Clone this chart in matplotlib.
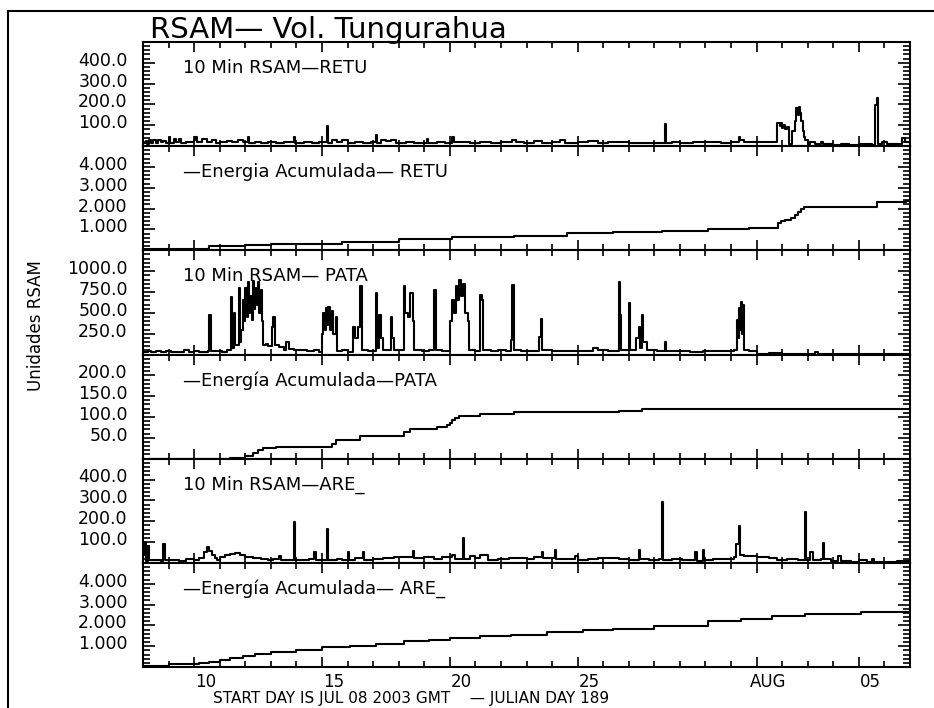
import numpy as np
import matplotlib
matplotlib.use('Agg')
import matplotlib.pyplot as plt
from matplotlib.ticker import MultipleLocator, FixedLocator
from matplotlib.transforms import ScaledTranslation
from matplotlib.patches import Rectangle

# day of month counted from Jul (Aug 1 = 32)
x_ticks = [10, 15, 20, 25, 32, 36]
x_labels = ['10', '15', '20', '25', 'AUG', '05']

# 10 min RSAM RETU (day, value)
retu = [(8.0,15),(8.1,25),(8.15,12),(8.25,30),(8.3,14),(8.4,28),(8.5,15),(8.6,30),(8.7,18),(8.8,26),
        (8.9,14),(9.0,45),(9.05,15),(9.2,35),(9.3,20),(9.4,33),(9.5,15),(9.7,18),(10.0,30),(10.05,45),
        (10.1,20),(10.3,32),(10.5,22),(10.7,30),(10.85,14),(11.0,18),(11.3,25),(11.5,20),(11.7,28),
        (11.9,22),(12.1,45),(12.15,16),(12.4,20),(12.6,14),(12.9,22),(13.2,15),(13.5,20),(13.9,45),
        (13.95,14),(14.3,18),(14.6,14),(14.9,20),(15.2,97),(15.25,15),(15.4,30),(15.6,20),(15.8,28),
        (16.0,15),(16.3,18),(16.6,14),(16.9,22),(17.1,52),(17.15,16),(17.3,30),(17.5,25),(17.7,30),
        (17.9,15),(18.3,20),(18.6,14),(19.1,35),(19.15,15),(19.5,22),(19.8,14),(20.1,45),(20.15,18),
        (20.5,22),(20.8,15),(21.2,20),(21.6,14),(22.0,18),(22.45,30),(22.6,22),(22.9,15),(23.3,25),
        (23.6,16),(24.0,22),(24.3,28),(24.5,15),(25.0,20),(25.4,25),(25.8,15),(26.2,22),(26.6,18),
        (27.0,14),(27.5,16),(28.0,14),(28.4,105),(28.45,14),(28.7,20),(29.0,14),(29.5,22),(29.9,18),
        (30.2,22),(30.6,15),(31.0,20),(31.3,45),(31.35,28),(31.5,20),(32.75,20),(32.8,113),(32.9,95),
        (32.95,110),(33.0,85),(33.05,100),(33.1,80),(33.2,90),(33.25,10),(33.35,10),(33.4,75),(33.5,120),
        (33.55,185),(33.6,150),(33.65,190),(33.7,160),(33.75,120),(33.8,75),(33.85,45),(33.9,30),(34.0,10),
        (34.1,22),(34.3,8),(34.5,20),(34.6,10),(35.0,5),(35.3,10),(35.6,5),(36.0,8),(36.3,12),(36.5,5),
        (36.65,199),(36.7,231),(36.75,10),(36.9,18),(37.1,8),(37.5,10),(37.7,38),(37.8,20),(38.0,15)]

# Energia acumulada RETU, step values
retu_energy = [(8.0,0.06),(10.6,0.19),(12.0,0.24),(13.0,0.32),(15.8,0.42),(18.0,0.52),(20.1,0.62),
               (22.5,0.71),(24.6,0.81),(26.4,0.87),(28.3,0.94),(30.1,1.0),(31.7,1.07),(32.85,1.3),
               (32.95,1.42),(33.1,1.45),(33.35,1.55),(33.5,1.7),(33.6,1.86),(33.75,2.0),(33.87,2.1),
               (36.7,2.3),(37.85,2.38),(38.0,2.38)]

# 10 min RSAM PATA
pata = [(8.0,30),(8.2,40),(8.3,25),(8.5,45),(8.7,30),(8.9,40),(9.1,28),(9.3,35),(9.6,50),(9.8,30),
        (10.0,45),(10.2,35),(10.4,30),(10.55,40),(10.6,480),(10.65,40),(10.9,45),(11.1,35),(11.3,60),
        (11.45,695),(11.5,80),(11.55,500),(11.6,120),(11.75,797),(11.8,150),(11.85,300),(11.9,650),
        (11.95,400),(12.0,800),(12.05,450),(12.1,870),(12.15,500),(12.2,700),(12.25,420),(12.3,880),
        (12.35,550),(12.4,800),(12.45,600),(12.5,870),(12.55,500),(12.6,780),(12.65,400),(12.7,120),
        (12.8,130),(12.9,100),(13.05,330),(13.1,453),(13.15,120),(13.3,90),(13.5,60),(13.6,150),
        (13.7,70),(13.9,50),(14.1,60),(14.4,40),(14.7,55),(14.9,35),(15.0,250),(15.05,500),(15.1,300),
        (15.15,560),(15.2,350),(15.25,575),(15.3,300),(15.4,520),(15.45,250),(15.55,450),(15.6,40),
        (15.8,50),(16.0,35),(16.2,330),(16.3,200),(16.4,330),(16.5,817),(16.55,60),(16.8,40),(17.0,45),
        (17.1,737),(17.15,80),(17.25,473),(17.3,200),(17.4,60),(17.7,453),(17.75,200),(17.8,60),
        (18.0,50),(18.2,817),(18.25,500),(18.35,450),(18.45,737),(18.55,400),(18.6,60),(18.9,45),
        (19.2,55),(19.4,777),(19.45,50),(19.7,40),(19.95,45),(20.0,400),(20.1,650),(20.15,500),
        (20.25,820),(20.3,650),(20.35,898),(20.45,700),(20.5,850),(20.6,500),(20.7,400),(20.75,50),
        (21.0,45),(21.2,716),(21.25,650),(21.3,60),(21.6,45),(21.9,50),(22.2,40),(22.4,170),(22.45,838),
        (22.5,60),(22.8,45),(23.2,40),(23.5,210),(23.55,421),(23.6,50),(24.0,45),(24.5,40),(25.0,45),
        (25.6,73),(25.8,60),(26.2,45),(26.6,865),(26.65,473),(26.7,60),(27.0,615),(27.05,60),(27.3,194),
        (27.4,330),(27.45,80),(27.5,473),(27.55,150),(27.7,50),(28.1,45),(28.4,150),(28.45,40),(28.9,45),
        (29.4,35),(29.9,45),(30.3,40),(30.8,45),(31.1,50),(31.25,413),(31.3,200),(31.33,560),(31.37,300),
        (31.4,635),(31.43,250),(31.47,600),(31.5,60),(31.7,40),(32.0,10),(32.5,15),(33.0,8),(33.5,12),
        (34.0,10),(34.3,30),(34.4,12),(35.0,8),(35.5,12),(36.0,5),(36.5,10),(37.0,8),(37.5,12),(38.0,15)]

pata_energy = [(8.0,0),(11.4,2),(12.0,7),(12.3,14),(12.5,20),(12.7,26),(13.2,29),(15.4,36),(15.55,45),
               (16.5,55),(18.2,64),(18.45,70),(19.5,76),(19.9,80),(20.0,86),(20.1,92),(20.2,97),
               (20.35,102),(21.2,107),(22.5,111),(26.6,114),(27.5,118),(38.0,118)]

# 10 min RSAM ARE_
are = [(8.0,40),(8.05,100),(8.1,10),(8.2,80),(8.25,12),(8.5,15),(8.7,10),(8.8,92),(8.85,12),(9.1,15),
       (9.4,10),(9.7,18),(10.0,12),(10.2,25),(10.4,50),(10.5,76),(10.6,55),(10.7,40),(10.8,25),(10.9,15),
       (11.0,30),(11.2,38),(11.4,42),(11.6,48),(11.8,40),(12.0,30),(12.3,22),(12.6,18),(12.9,15),(13.1,20),
       (13.3,35),(13.4,15),(13.7,12),(13.9,194),(13.95,12),(14.2,15),(14.5,20),(14.7,52),(14.75,12),
       (15.0,15),(15.2,162),(15.25,12),(15.6,20),(15.8,15),(16.0,52),(16.05,15),(16.3,22),(16.6,50),
       (16.65,15),(17.0,20),(17.4,25),(17.8,28),(18.2,30),(18.55,55),(18.6,25),(19.0,28),(19.4,20),
       (19.7,30),(20.1,40),(20.2,20),(20.5,121),(20.55,20),(20.8,35),(21.0,25),(21.2,38),(21.5,15),
       (21.9,20),(22.3,22),(22.7,25),(23.0,20),(23.3,28),(23.6,52),(23.65,22),(24.1,60),(24.15,18),
       (24.5,20),(24.9,35),(25.0,12),(25.4,20),(25.8,25),(26.2,22),(26.6,20),(27.0,15),(27.4,60),
       (27.45,20),(27.8,15),(28.2,18),(28.3,290),(28.35,15),(28.7,20),(29.1,15),(29.6,52),(29.65,10),
       (29.9,60),(29.95,15),(30.3,20),(30.7,18),(31.1,30),(31.2,92),(31.3,176),(31.35,40),(31.5,32),
       (32.0,30),(32.5,25),(32.8,15),(33.2,18),(33.6,12),(33.9,246),(33.95,15),(34.1,52),(34.2,15),
       (34.5,20),(34.6,96),(34.65,20),(34.9,10),(35.2,35),(35.3,10),(35.7,5),(36.0,15),(36.3,5),
       (36.5,20),(36.6,3),(37.0,5),(37.5,8),(38.0,10)]

are_energy = [(8.0,0.05),(9.0,0.15),(9.6,0.16),(10.2,0.18),(10.6,0.26),(11.0,0.34),(11.4,0.42),
              (11.9,0.53),(12.4,0.62),(13.0,0.71),(14.0,0.82),(15.0,0.94),(16.1,1.03),(17.1,1.12),
              (18.2,1.23),(19.2,1.31),(20.0,1.39),(21.2,1.47),(22.4,1.55),(23.8,1.67),(25.2,1.76),
              (26.4,1.84),(28.0,1.99),(30.1,2.2),(31.4,2.31),(32.6,2.44),(33.9,2.56),(36.1,2.65),(38.0,2.68)]

# y axis: (top, major step, minor step, label format)
panels = [
    (retu, 500, 100, 20, '%.1f', '10 Min RSAM\u2014RETU'),
    (retu_energy, 5, 1, 0.2, '%.3f', '\u2014Energia Acumulada\u2014 RETU'),
    (pata, 1250, 250, 50, '%.1f', '10 Min RSAM\u2014 PATA'),
    (pata_energy, 250, 50, 10, '%.1f', '\u2014Energ\u00eda Acumulada\u2014PATA'),
    (are, 500, 100, 20, '%.1f', '10 Min RSAM\u2014ARE_'),
    (are_energy, 5, 1, 0.2, '%.3f', '\u2014Energ\u00eda Acumulada\u2014 ARE_'),
]

W, H = 934, 708
fig = plt.figure(figsize=(W / 100, H / 100), dpi=100)

left = 143 / W
width = (910 - 143) / W
top = 1 - 42 / H
ph = (667 - 42) / 6 / H

for i, (data, ymax, major, minor, fmt, label) in enumerate(panels):
    ax = fig.add_axes([left, top - (i + 1) * ph, width, ph])
    d = np.array(data, dtype=float)
    ax.plot(d[:, 0], d[:, 1], color='k', lw=1.5, drawstyle='steps-post')
    ax.set_xlim(8, 38)
    ax.set_ylim(0, ymax)
    for s in ax.spines.values():
        s.set_linewidth(1.5)

    ax.xaxis.set_major_locator(FixedLocator(x_ticks))
    ax.xaxis.set_minor_locator(MultipleLocator(1))
    yt = np.arange(0, ymax + major / 2, major)
    ax.set_yticks(yt)
    ax.set_yticklabels([''] + [fmt % v for v in yt[1:-1]] + [''])
    ax.yaxis.set_minor_locator(MultipleLocator(minor))

    ax.tick_params(axis='both', which='both', direction='in', top=True, right=True,
                   width=1.2, colors='k')
    ax.tick_params(axis='x', which='major', length=7.5)
    ax.tick_params(axis='x', which='minor', length=4.5)
    ax.tick_params(axis='y', which='major', length=8.5, pad=11, labelsize=12.5)
    ax.tick_params(axis='y', which='minor', length=5)

    if i == len(panels) - 1:
        ax.set_xticklabels(x_labels)
        ax.tick_params(axis='x', labelsize=12, pad=4)
        for lab in ax.get_xticklabels():
            lab.set_transform(lab.get_transform() + ScaledTranslation(0.12, 0, fig.dpi_scale_trans))
    else:
        ax.set_xticklabels([])

    for lab in ax.get_yticklabels():
        lab.set_transform(lab.get_transform() + ScaledTranslation(0, 0.04, fig.dpi_scale_trans))

    ax.text((183 - 143) / 767, 0.75, label, transform=ax.transAxes, fontsize=13, va='center')

fig.text(150 / W, 1 - 38 / H, 'RSAM\u2014 Vol. Tungurahua', fontsize=21, va='baseline')
fig.text(36 / W, 1 - 326 / H, 'Unidades RSAM', rotation=90, ha='center', va='center', fontsize=12)
fig.text(213 / W, 1 - 698 / H, 'START DAY IS JUL 08 2003 GMT    \u2014 JULIAN DAY 189',
         fontsize=11, va='center')

# outer frame (cut by the image edge on the right and bottom)
fig.add_artist(Rectangle((8 / W, -0.1), 2, 1 - 11 / H + 0.1, transform=fig.transFigure,
                         fill=False, lw=1.5, ec='k', clip_on=False))

fig.savefig('out.png', dpi=100)
